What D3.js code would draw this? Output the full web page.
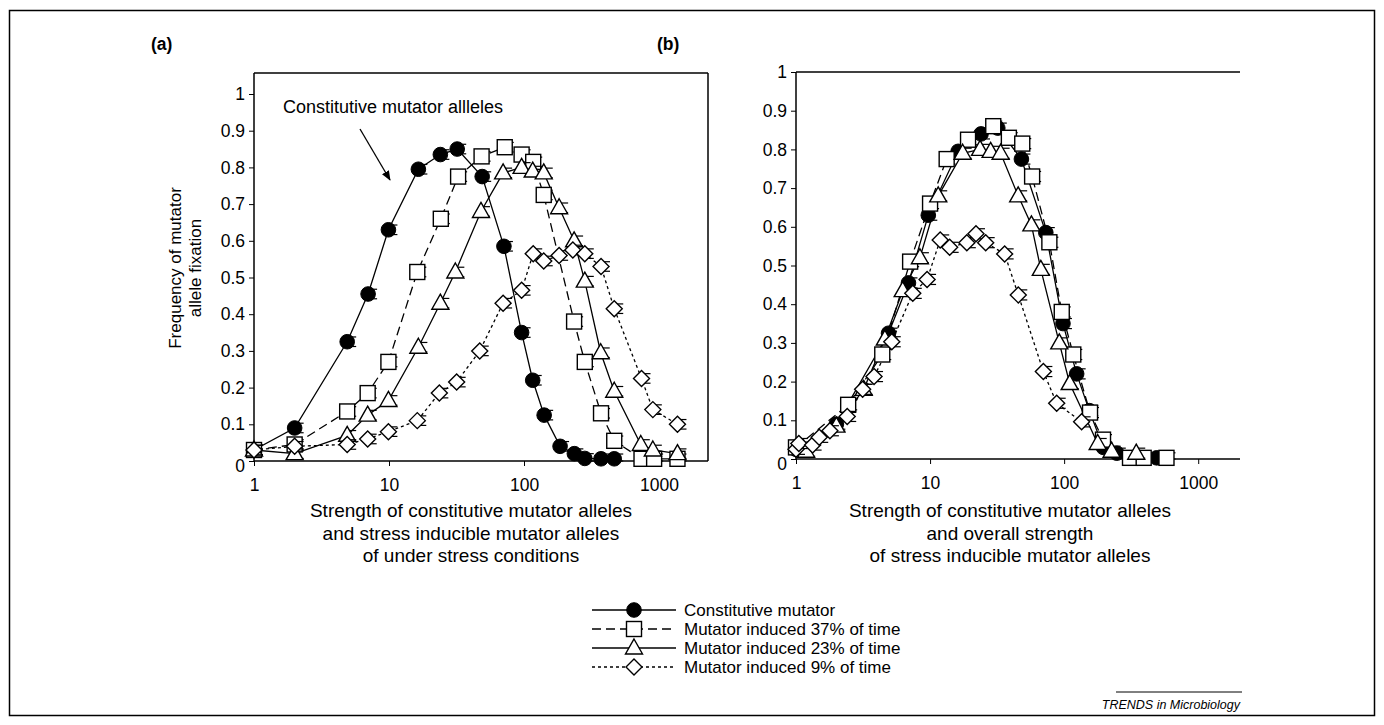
<!DOCTYPE html>
<html>
<head>
<meta charset="utf-8">
<script src="https://cdn.jsdelivr.net/npm/d3@7"></script>
<style>
  body { margin: 0; background: #fff; }
  svg text { font-family: "Liberation Sans", Arial, sans-serif; fill: #000; }
</style>
</head>
<body>
<svg id="chart" width="1384" height="725"></svg>
<script>
// ---- data, panel (a) ----
const aConstX = [1, 2, 4.9, 7, 9.9, 16.5, 24, 32, 49, 71, 96, 116, 141, 185, 236, 282, 372, 466];
const aConstY = [0.03, 0.09, 0.325, 0.455, 0.63, 0.795, 0.835, 0.85, 0.775, 0.585, 0.35, 0.22, 0.125, 0.04, 0.02, 0.007, 0.006, 0.006];
const a37X = [1, 2, 4.9, 6.95, 9.9, 16.2, 24.2, 32.5, 48.5, 72, 96, 117, 140, 235, 282, 372, 466, 742, 920, 1370];
const a37Y = [0.03, 0.045, 0.135, 0.185, 0.27, 0.515, 0.66, 0.775, 0.83, 0.855, 0.835, 0.815, 0.725, 0.38, 0.27, 0.13, 0.055, 0.006, 0.006, 0.006];
const a23X = [1, 2, 4.9, 6.95, 9.9, 16.5, 24, 31, 48, 70, 96, 116, 140, 182, 235, 282, 370, 466, 733, 900, 1370];
const a23Y = [0.03, 0.02, 0.07, 0.125, 0.165, 0.31, 0.43, 0.515, 0.68, 0.785, 0.8, 0.79, 0.785, 0.69, 0.6, 0.49, 0.295, 0.19, 0.045, 0.03, 0.02];
const a9X = [1, 2, 4.9, 6.95, 9.9, 16.2, 23.6, 31.7, 47, 70, 96, 117, 140, 182, 230, 282, 372, 466, 742, 900, 1370];
const a9Y = [0.03, 0.04, 0.045, 0.06, 0.08, 0.11, 0.185, 0.215, 0.3, 0.43, 0.465, 0.565, 0.545, 0.56, 0.575, 0.565, 0.53, 0.415, 0.225, 0.14, 0.1];

// ---- data, panel (b) ----
const bConstX = [1, 2, 4.9, 6.9, 9.7, 16.2, 24, 32, 48, 73, 98, 124, 154, 196, 247, 490];
const bConstY = [0.025, 0.09, 0.325, 0.455, 0.63, 0.795, 0.84, 0.855, 0.775, 0.585, 0.35, 0.22, 0.125, 0.03, 0.015, 0.003];
const b37X = [1, 2.45, 4.4, 7.1, 10, 13.3, 19.2, 29.6, 38.7, 48.7, 57.7, 77.6, 96, 117, 156, 195, 310, 392, 580];
const b37Y = [0.03, 0.14, 0.27, 0.51, 0.66, 0.775, 0.825, 0.86, 0.83, 0.815, 0.73, 0.56, 0.38, 0.27, 0.12, 0.05, 0.003, 0.003, 0.003];
const b23X = [1.19, 2, 3.2, 4.6, 6.25, 8.4, 11.5, 17.5, 23.6, 28.3, 33.6, 45.4, 57, 67, 92, 110, 178, 226, 345];
const b23Y = [0.02, 0.085, 0.18, 0.31, 0.435, 0.52, 0.68, 0.79, 0.8, 0.795, 0.79, 0.68, 0.605, 0.49, 0.3, 0.195, 0.04, 0.02, 0.015];
const b9X = [1, 1.05, 1.33, 1.49, 1.79, 2.41, 3.14, 3.82, 5.18, 7.43, 9.5, 11.9, 14, 18.8, 22, 26, 36, 45.5, 70, 88, 135];
const b9Y = [0.025, 0.04, 0.036, 0.056, 0.073, 0.11, 0.18, 0.213, 0.303, 0.428, 0.464, 0.566, 0.547, 0.559, 0.582, 0.559, 0.53, 0.424, 0.226, 0.144, 0.096];

const seriesErr = 0.013;   // half-size of the error bars
const xTicks = [1, 10, 100, 1000];
const yTicks = [0, 0.1, 0.2, 0.3, 0.4, 0.5, 0.6, 0.7, 0.8, 0.9, 1];
const legendLabels = ["Constitutive mutator", "Mutator induced 37% of time", "Mutator induced 23% of time", "Mutator induced 9% of time"];

// marker / line styles by series index
const styles = [
  {sym: "circle", dash: null},
  {sym: "square", dash: "9,5"},
  {sym: "triangle", dash: null},
  {sym: "diamond", dash: "3,3"}
];

const svg = d3.select("#chart");

// outer frame
svg.append("rect")
   .attr("x", 9.5).attr("y", 10.5).attr("width", 1365).attr("height", 705)
   .attr("fill", "none").attr("stroke", "#000").attr("stroke-width", 1.5);

function drawMarker(g, sym, cx, cy) {
  if (sym === "circle") {
    g.append("circle").attr("cx", cx).attr("cy", cy).attr("r", 7.3)
     .attr("fill", "#000").attr("stroke", "#000");
  } else if (sym === "square") {
    g.append("rect").attr("x", cx - 7.5).attr("y", cy - 7.5).attr("width", 15).attr("height", 15)
     .attr("fill", "#fff").attr("stroke", "#000").attr("stroke-width", 1.4);
  } else if (sym === "triangle") {
    g.append("path").attr("d", `M${cx},${cy - 9}L${cx + 8.5},${cy + 6}L${cx - 8.5},${cy + 6}Z`)
     .attr("fill", "#fff").attr("stroke", "#000").attr("stroke-width", 1.4);
  } else {
    g.append("path").attr("d", `M${cx},${cy - 8}L${cx + 8},${cy}L${cx},${cy + 8}L${cx - 8},${cy}Z`)
     .attr("fill", "#fff").attr("stroke", "#000").attr("stroke-width", 1.4);
  }
}

function drawPanel(cfg) {
  const x = d3.scaleLog().domain(cfg.xDomain).range([cfg.left, cfg.right]);
  const y = d3.scaleLinear().domain([0, 1]).range([cfg.y0, cfg.y1]);
  const top = y(cfg.yMax);
  const g = svg.append("g");

  // frame lines
  g.append("line").attr("x1", cfg.left).attr("x2", cfg.right).attr("y1", top).attr("y2", top)
   .attr("stroke", "#000").attr("stroke-width", 1.5);
  if (cfg.rightBorder) {
    g.append("line").attr("x1", cfg.right).attr("x2", cfg.right).attr("y1", top).attr("y2", cfg.y0)
     .attr("stroke", "#000").attr("stroke-width", 1.5);
  }

  const xAxis = d3.axisBottom(x).tickValues(xTicks).tickFormat(d3.format("d")).tickSize(5).tickPadding(13);
  const gx = g.append("g").attr("transform", `translate(0,${cfg.y0})`).call(xAxis);
  const yAxis = d3.axisLeft(y).tickValues(yTicks)
                  .tickFormat(d => d === 0 ? "0" : d === 1 ? "1" : d3.format(".1f")(d))
                  .tickSize(5).tickPadding(4);
  const gy = g.append("g").attr("transform", `translate(${cfg.left},0)`).call(yAxis);
  [gx, gy].forEach(a => {
    a.select(".domain").attr("stroke-width", 1.5);
    a.selectAll("text").attr("font-size", 17.5).attr("font-family", "Liberation Sans, Arial, sans-serif");
  });
  gx.select(".domain").attr("d", `M${cfg.left},0H${cfg.right}`);
  gy.select(".domain").attr("d", `M0,${cfg.y0}V${top}`);
  gy.selectAll(".tick").filter(d => d === 0).select("text").attr("dy", "0.6em");

  // series
  cfg.series.forEach((s, i) => {
    const pts = s.xs.map((v, k) => [v, s.ys[k]]);
    const st = styles[i];
    g.append("path").datum(pts)
     .attr("d", d3.line().x(d => x(d[0])).y(d => y(d[1])))
     .attr("fill", "none").attr("stroke", "#000").attr("stroke-width", 1.3)
     .attr("stroke-dasharray", st.dash);
  });
  cfg.series.forEach((s, i) => {
    const st = styles[i];
    const gs = g.append("g");
    s.xs.forEach((v, k) => {
      const cx = x(v), cy = y(s.ys[k]);
      const e1 = y(s.ys[k] + seriesErr), e0 = y(Math.max(0, s.ys[k] - seriesErr));
      gs.append("line").attr("x1", cx).attr("x2", cx).attr("y1", e1).attr("y2", e0)
        .attr("stroke", "#000").attr("stroke-width", 1.2);
      [e1, e0].forEach(ey => gs.append("line").attr("x1", cx - 2).attr("x2", cx + 9).attr("y1", ey).attr("y2", ey)
        .attr("stroke", "#000").attr("stroke-width", 1.2));
      drawMarker(gs, st.sym, cx, cy);
    });
  });

  // panel letter
  svg.append("text").attr("x", cfg.letterX).attr("y", 50).attr("font-size", 17.5).attr("font-weight", "bold")
     .text(cfg.letter);

  // x title
  cfg.xTitle.forEach((t, k) => {
    svg.append("text").attr("x", cfg.titleX).attr("y", 517 + k * 22.5).attr("text-anchor", "middle")
       .attr("font-size", 19).text(t);
  });
  return {x, y};
}

drawPanel({
  letter: "(a)", letterX: 151,
  left: 254, right: 708, y0: 461, y1: 94, yMax: 1.057,
  xDomain: [1, 2306], rightBorder: true, titleX: 471,
  xTitle: ["Strength of constitutive mutator alleles", "and stress inducible mutator alleles", "of under stress conditions"],
  series: [
    {xs: aConstX, ys: aConstY}, {xs: a37X, ys: a37Y}, {xs: a23X, ys: a23Y}, {xs: a9X, ys: a9Y}
  ]
});

drawPanel({
  letter: "(b)", letterX: 657,
  left: 796, right: 1240, y0: 459, y1: 72, yMax: 1,
  xDomain: [1, 2050], rightBorder: false, titleX: 1010,
  xTitle: ["Strength of constitutive mutator alleles", "and overall strength", "of stress inducible mutator alleles"],
  series: [
    {xs: bConstX, ys: bConstY}, {xs: b37X, ys: b37Y}, {xs: b23X, ys: b23Y}, {xs: b9X, ys: b9Y}
  ]
});

// y title panel (a)
const yt = svg.append("text").attr("transform", "translate(181,268) rotate(-90)")
              .attr("text-anchor", "middle").attr("font-size", 17);
yt.append("tspan").attr("x", 0).attr("dy", 0).text("Frequency of mutator");
yt.append("tspan").attr("x", 0).attr("dy", 20).text("allele fixation");

// annotation with arrow
svg.append("text").attr("x", 283).attr("y", 113).attr("font-size", 18).text("Constitutive mutator allleles");
svg.append("defs").append("marker").attr("id", "ah").attr("viewBox", "0 0 10 10")
   .attr("refX", 9).attr("refY", 5).attr("markerWidth", 10).attr("markerHeight", 10)
   .attr("orient", "auto").attr("markerUnits", "userSpaceOnUse")
   .append("path").attr("d", "M0,1L10,5L0,9Z").attr("fill", "#000");
svg.append("line").attr("x1", 360).attr("y1", 129).attr("x2", 390).attr("y2", 180)
   .attr("stroke", "#000").attr("stroke-width", 1.3).attr("marker-end", "url(#ah)");

// legend
const lg = svg.append("g");
legendLabels.forEach((t, i) => {
  const ly = 610 + i * 19;
  lg.append("line").attr("x1", 592).attr("x2", 676).attr("y1", ly).attr("y2", ly)
    .attr("stroke", "#000").attr("stroke-width", 1.3).attr("stroke-dasharray", styles[i].dash);
  drawMarker(lg, styles[i].sym, 634, ly);
  lg.append("text").attr("x", 684).attr("y", ly + 6).attr("font-size", 17).text(t);
});

// source
svg.append("line").attr("x1", 1116).attr("x2", 1242).attr("y1", 692).attr("y2", 692)
   .attr("stroke", "#000").attr("stroke-width", 1);
svg.append("text").attr("x", 1240).attr("y", 709).attr("text-anchor", "end")
   .attr("font-size", 12.5).attr("font-style", "italic").text("TRENDS in Microbiology");
</script>
</body>
</html>
